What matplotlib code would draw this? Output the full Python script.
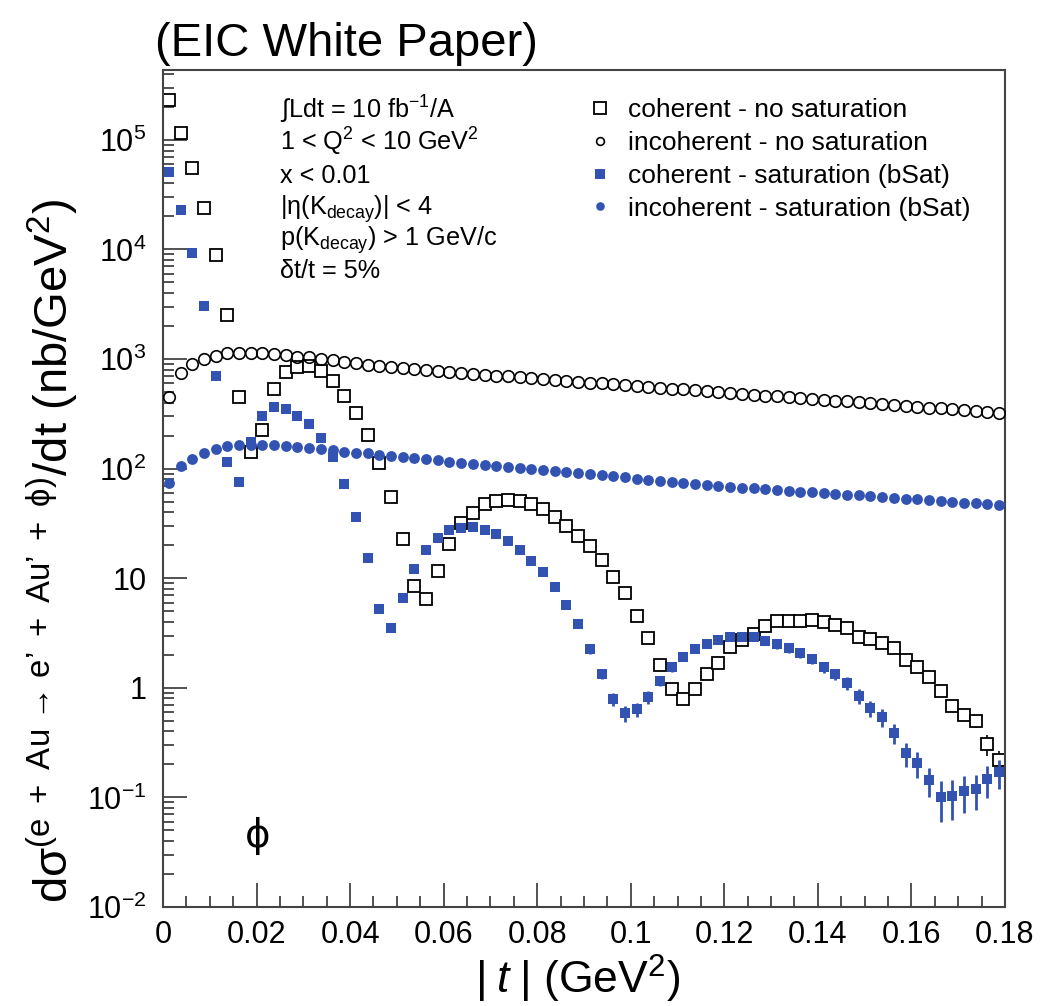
import matplotlib
matplotlib.use("Agg")
import matplotlib.pyplot as plt
import numpy as np
from matplotlib.ticker import LogLocator, MultipleLocator, NullFormatter

plt.rcParams["font.family"] = ["Liberation Sans", "DejaVu Sans"]
plt.rcParams["mathtext.fontset"] = "custom"
plt.rcParams["mathtext.rm"] = "Liberation Sans"
plt.rcParams["mathtext.it"] = "Liberation Sans:italic"
plt.rcParams["mathtext.bf"] = "Liberation Sans:bold"

# |t| bins of 0.0025 GeV^2, 72 bins between 0 and 0.18
bin_width = 0.0025
t_centers = (np.arange(72) + 0.5) * bin_width

# coherent, no saturation (open squares)
coh_nosat = np.array([
    2.3e5, 1.15e5, 5.5e4, 2.4e4, 8.9e3, 2.5e3, 450, 142, 225, 532,
    761, 845, 863, 778, 630, 460, 322, 203, 112, 55,
    22.8, 8.5, 6.5, 11.6, 20.5, 31.7, 39.6, 47.2, 50.6, 51.7,
    50.6, 47.2, 42.5, 36.4, 30.1, 24.4, 19.7, 14.7, 10.2, 7.28,
    4.55, 2.83, 1.60, 0.97, 0.785, 0.97, 1.33, 1.69, 2.37, 2.73,
    3.10, 3.69, 4.07, 4.10, 4.10, 4.16, 3.96, 3.74, 3.53, 2.93,
    2.79, 2.55, 2.29, 1.79, 1.54, 1.26, 0.94, 0.68, 0.57, 0.50,
    0.305, 0.22])
coh_nosat_rel = np.array([
    0.0, 0.0, 0.0, 0.0, 0.0, 0.0, 0.0, 0.0, 0.0, 0.0,
    0.0, 0.0, 0.0, 0.0, 0.0, 0.0, 0.0, 0.0, 0.0, 0.0,
    0.0, 0.02, 0.02, 0.02, 0.0, 0.0, 0.0, 0.0, 0.0, 0.0,
    0.0, 0.0, 0.0, 0.0, 0.0, 0.0, 0.0, 0.0, 0.02, 0.03,
    0.03, 0.04, 0.05, 0.06, 0.07, 0.06, 0.05, 0.04, 0.03, 0.03,
    0.03, 0.03, 0.03, 0.03, 0.03, 0.03, 0.03, 0.03, 0.03, 0.03,
    0.04, 0.04, 0.04, 0.05, 0.05, 0.05, 0.06, 0.08, 0.10, 0.14,
    0.22, 0.20])

# incoherent, no saturation (open circles)
incoh_nosat = np.array([
    453, 750, 895, 993, 1072, 1127, 1142, 1142, 1127, 1111,
    1087, 1049, 1035, 1000, 979, 939, 914, 882, 863, 851,
    833, 811, 794, 778, 761, 747, 734, 720, 707, 694,
    682, 670, 657, 645, 634, 622, 611, 600, 589, 579,
    568, 558, 548, 538, 528, 519, 509, 500, 491, 482,
    474, 465, 457, 448, 440, 432, 425, 417, 410, 402,
    395, 388, 381, 374, 367, 361, 354, 348, 341, 335,
    329, 323])

# coherent, saturation bSat (filled squares)
coh_sat = np.array([
    5.12e4, 2.29e4, 9.3e3, 3.06e3, 700, 114, 75.5, 176, 304, 362,
    350, 302, 255, 191, 128, 71.9, 36.4, 15.2, 5.20, 3.49,
    6.56, 12.1, 18.1, 23.5, 27.4, 28.5, 29.1, 27.5, 25.3, 22.0,
    18.1, 14.4, 11.3, 8.26, 5.69, 3.82, 2.26, 1.34, 0.79, 0.585,
    0.637, 0.824, 1.16, 1.54, 1.92, 2.26, 2.52, 2.76, 2.89, 2.89,
    2.89, 2.69, 2.51, 2.29, 2.09, 1.82, 1.54, 1.34, 1.11, 0.84,
    0.65, 0.538, 0.389, 0.253, 0.205, 0.144, 0.100, 0.103, 0.114, 0.119,
    0.146, 0.169])
coh_sat_rel = np.array([
    0.0, 0.0, 0.0, 0.0, 0.0, 0.0, 0.0, 0.0, 0.0, 0.0,
    0.0, 0.0, 0.0, 0.0, 0.0, 0.0, 0.0, 0.02, 0.04, 0.05,
    0.03, 0.02, 0.0, 0.0, 0.0, 0.0, 0.0, 0.0, 0.0, 0.03,
    0.03, 0.03, 0.04, 0.05, 0.06, 0.07, 0.09, 0.11, 0.14, 0.16,
    0.15, 0.13, 0.11, 0.10, 0.09, 0.08, 0.08, 0.08, 0.08, 0.08,
    0.08, 0.08, 0.09, 0.09, 0.10, 0.10, 0.11, 0.12, 0.14, 0.15,
    0.17, 0.19, 0.21, 0.25, 0.27, 0.30, 0.40, 0.39, 0.37, 0.36,
    0.33, 0.30])

# incoherent, saturation bSat (filled circles)
incoh_sat = np.array([
    73.5, 106, 122, 140, 150, 161, 164, 166, 166, 164,
    162, 158, 155, 151, 148, 143, 140, 138, 133, 131,
    128, 124, 122, 120, 116, 113.4, 110.9, 108.5, 106.1, 103.8,
    101.5, 99.3, 97.1, 95.0, 92.9, 90.8, 88.8, 86.9, 85.0, 83.1,
    81.3, 79.5, 77.7, 76.0, 74.3, 72.7, 71.1, 69.5, 68.4, 67.2,
    66.1, 65.0, 63.9, 62.9, 61.8, 60.8, 59.8, 58.8, 57.9, 56.9,
    56.0, 55.0, 54.1, 53.2, 52.4, 51.5, 50.6, 49.8, 49.0, 48.2,
    47.4, 46.6])

series_labels = [
    "coherent - no saturation",
    "incoherent - no saturation",
    "coherent - saturation (bSat)",
    "incoherent - saturation (bSat)",
]

x_ticks = [0, 0.02, 0.04, 0.06, 0.08, 0.10, 0.12, 0.14, 0.16, 0.18]
x_tick_labels = ["0", "0.02", "0.04", "0.06", "0.08", "0.1", "0.12", "0.14", "0.16", "0.18"]
y_ticks = [1e-2, 1e-1, 1, 10, 1e2, 1e3, 1e4, 1e5]
y_tick_labels = [r"$\mathregular{10^{-2}}$", r"$\mathregular{10^{-1}}$", "1", "10",
                 r"$\mathregular{10^{2}}$", r"$\mathregular{10^{3}}$",
                 r"$\mathregular{10^{4}}$", r"$\mathregular{10^{5}}$"]

cut_lines = [
    r"∫Ldt = 10 fb$^{\mathregular{-1}}$/A",
    r"1 < Q$^{\mathregular{2}}$ < 10 GeV$^{\mathregular{2}}$",
    "x < 0.01",
    r"|η(K$_{\mathregular{decay}}$)| < 4",
    r"p(K$_{\mathregular{decay}}$) > 1 GeV/c",
    "δt/t = 5%",
]

blue = "#3353b3"

fig = plt.figure(figsize=(10.64, 10.06), dpi=100)
ax = fig.add_axes([0.1532, 0.0984, 0.7913, 0.832])

# open squares get a white face so their error bars stay outside the marker
eb_coh = ax.errorbar(t_centers, coh_nosat, yerr=coh_nosat * coh_nosat_rel, fmt="s",
                     ms=8.7, mfc="white", mec="black", mew=1.3, ecolor="black",
                     elinewidth=1.2, capsize=0, zorder=2)
ln_incoh, = ax.plot(t_centers, incoh_nosat, "o", ms=8.3, mfc="none", mec="black",
                    mew=1.2, zorder=3)
eb_coh_sat = ax.errorbar(t_centers, coh_sat, yerr=coh_sat * coh_sat_rel, fmt="s",
                         ms=7.6, mfc=blue, mec=blue, mew=0, ecolor=blue,
                         elinewidth=2.0, capsize=0, zorder=4)
ln_incoh_sat, = ax.plot(t_centers, incoh_sat, "o", ms=7.8, mfc=blue, mec=blue,
                        mew=0, zorder=4)

ax.set_xlim(0, 0.18)
ax.set_yscale("log")
ax.set_ylim(1e-2, 4.34e5)
ax.set_xticks(x_ticks, x_tick_labels)
ax.xaxis.set_minor_locator(MultipleLocator(0.005))
ax.set_yticks(y_ticks, y_tick_labels)
ax.yaxis.set_minor_locator(LogLocator(base=10, subs=np.arange(2, 10)))
ax.yaxis.set_minor_formatter(NullFormatter())
ax.tick_params(which="both", direction="in", top=False, right=False, color="#333333")
ax.tick_params(which="major", length=17, width=1.2, labelsize=22)
ax.tick_params(which="minor", length=8, width=1.2)
ax.tick_params(axis="x", pad=9)
ax.tick_params(axis="y", pad=12)
for spine in ax.spines.values():
    spine.set_color("#444444")
    spine.set_linewidth(1.5)

handles = [eb_coh[0], ln_incoh, eb_coh_sat[0], ln_incoh_sat]
leg = ax.legend(handles, series_labels, loc="upper left", bbox_to_anchor=(0.5036, 0.966),
                frameon=False, fontsize=19, handlelength=1.0, handletextpad=0.55,
                labelspacing=0.33, borderpad=0, borderaxespad=0, numpoints=1)
for handle, size in zip(leg.legend_handles, [8.2, 5.6, 6.8, 6.2]):
    handle.set_markersize(size)

for i, line in enumerate(cut_lines):
    ax.text(0.139, 0.9415 - i * 0.038, line, transform=ax.transAxes,
            fontsize=18.2, ha="left", va="baseline")

ax.text(0.113, 0.072, "ϕ", transform=ax.transAxes, fontsize=28,
        ha="center", va="baseline", family=["DejaVu Sans"])

fig.text(155 / 1064, 1 - 56 / 1006, "(EIC White Paper)", fontsize=34,
         ha="left", va="baseline")
fig.text(578 / 1064, 1 - 994 / 1006,
         r"$\mathregular{|}\;\mathit{t}\;\mathregular{|}$ (GeV$^{\mathregular{2}}$)",
         fontsize=32, ha="center", va="baseline")
fig.text(52 / 1064, 1 - 551 / 1006,
         r"dσ$^{\mathregular{(e\ +\ Au\ →\ e’\ +\ Au’\ +\ ϕ)}}$/dt (nb/GeV$^{\mathregular{2}}$)",
         fontsize=34, rotation=90, ha="center", va="center")

fig.savefig("out.png", dpi=100)
